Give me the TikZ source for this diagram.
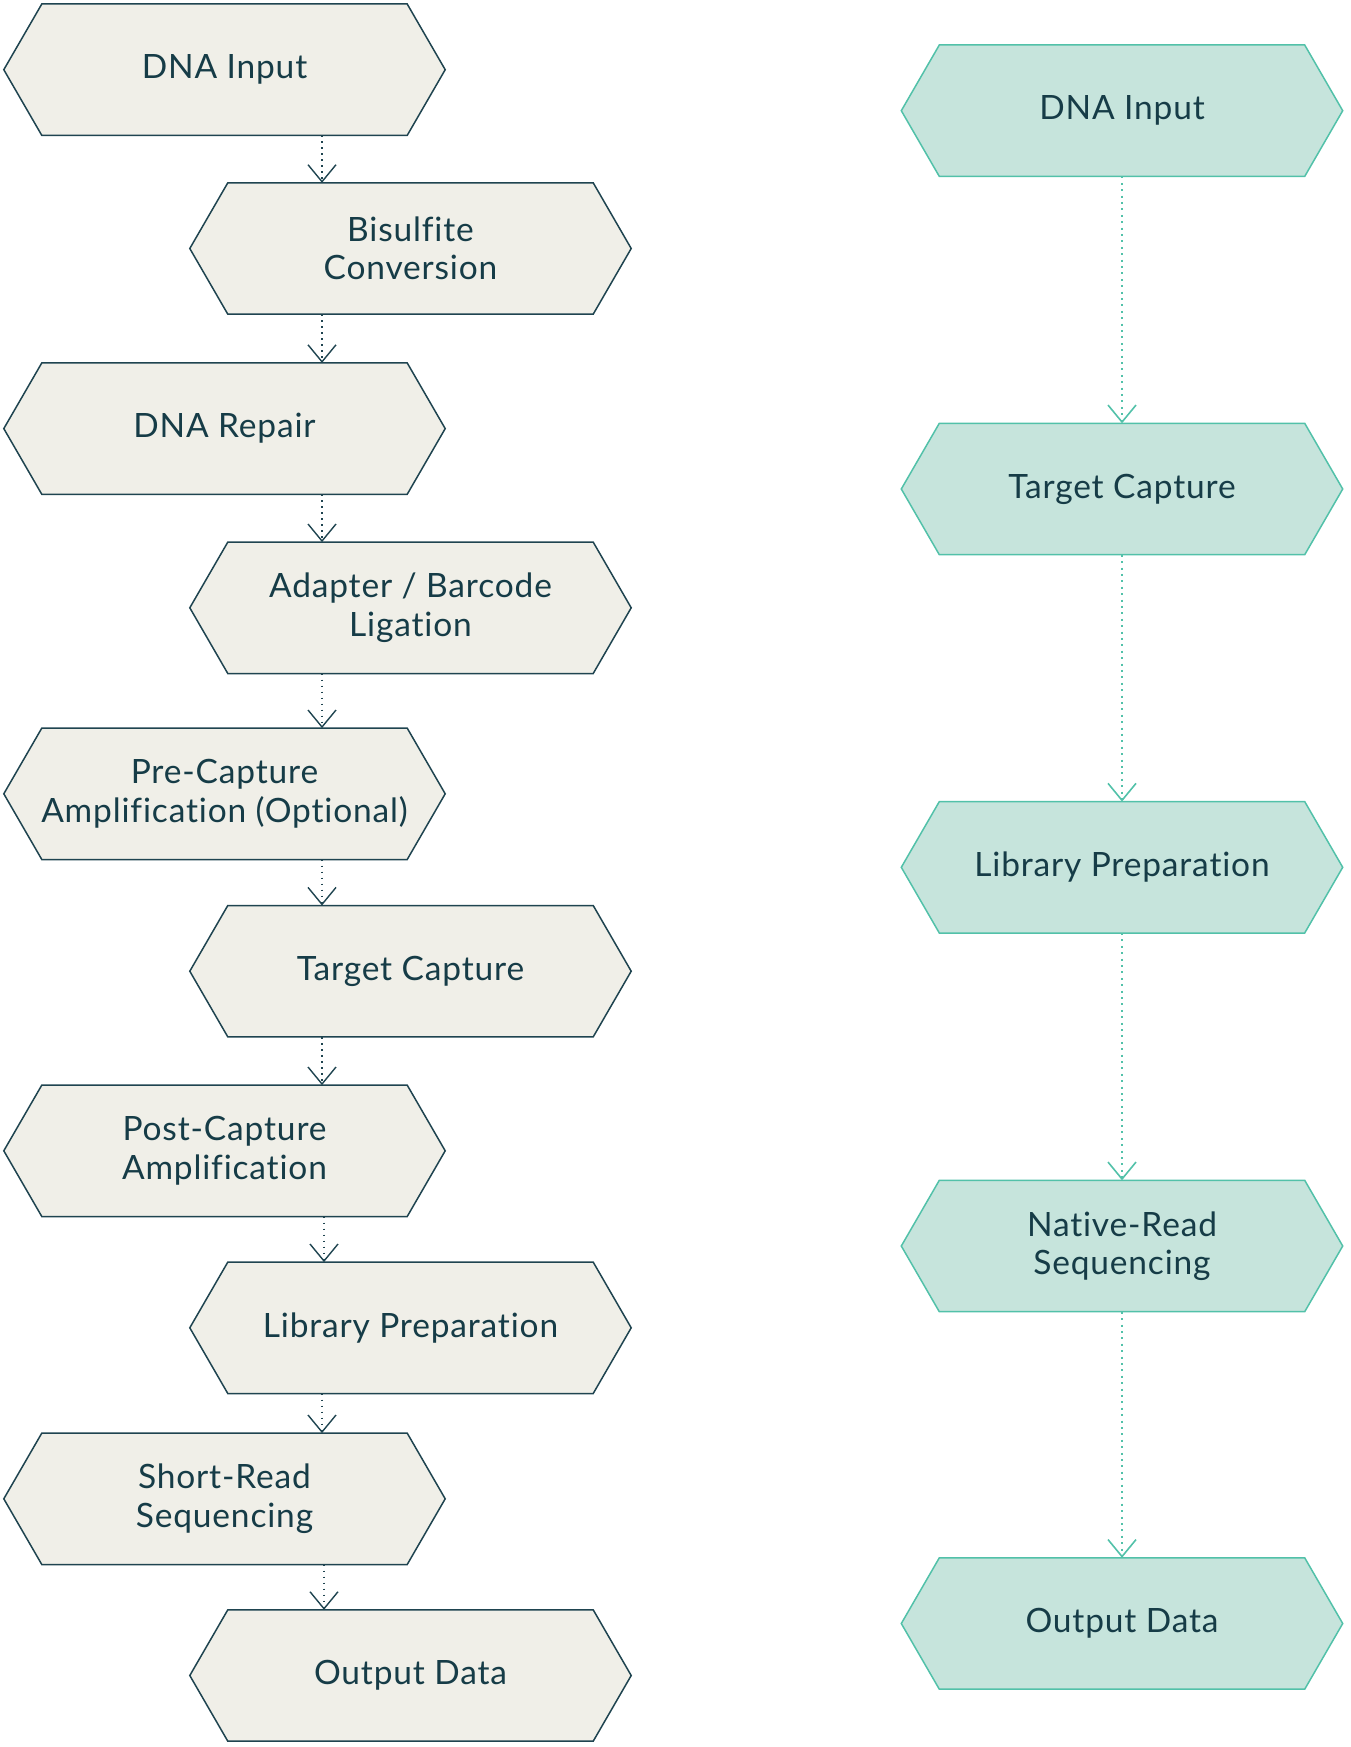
\documentclass[tikz,border=0pt]{standalone}
\usepackage{fontspec}
\setmainfont{Lato}[Ligatures=NoCommon, LetterSpace=2.5]
\usetikzlibrary{arrows.meta,backgrounds,calc}
\definecolor{lfill}{HTML}{F0EFE8}
\definecolor{lline}{HTML}{1F4450}
\definecolor{rfill}{HTML}{C6E4DC}
\definecolor{rline}{HTML}{52C1A9}
\definecolor{txt}{HTML}{163C47}
\tikzset{
  x=1pt, y=-1pt,
  hexbox/.style={rectangle, minimum width=441pt, minimum height=131pt, inner sep=0pt,
    align=center, text=txt, font=\fontsize{33.5}{38.4}\selectfont},
  lhex/.style={fill=lfill, draw=lline, line width=1.5pt, line join=miter},
  rhex/.style={fill=rfill, draw=rline, line width=1.5pt, line join=miter},
  larrow/.style={draw=lline, line width=1.5pt, dash pattern=on 1.6pt off 4.4pt,
    -{Straight Barb[length=17pt,width=28pt,line width=1.4pt]}},
  rarrow/.style={draw=rline, line width=2pt, dash pattern=on 2pt off 4.4pt,
    -{Straight Barb[length=17pt,width=28pt,line width=1.6pt]}},
}
\newcommand\hexpath[2]{%
  \path[#2] (#1.west) -- ([xshift=38pt]#1.north west) -- ([xshift=-38pt]#1.north east)
    -- (#1.east) -- ([xshift=-38pt]#1.south east) -- ([xshift=38pt]#1.south west) -- cycle;}
\newcommand\lab[1]{\raisebox{-2pt}{\begin{tabular}{@{}c@{}}#1\end{tabular}}}
\begin{document}
\begin{tikzpicture}
\useasboundingbox (0,0) rectangle (1350,1747);
% left column
\node[hexbox] (l1) at (224.5,69.7) {DNA Input};
\node[hexbox] (l2) at (410.5,248.5) {Bisulfite\\Conversion};
\node[hexbox] (l3) at (224.5,428.6) {DNA Repair};
\node[hexbox] (l4) at (410.5,607.8) {Adapter / Barcode\\Ligation};
\node[hexbox] (l5) at (224.5,793.8) {Pre-Capture\\Amplification (Optional)};
\node[hexbox] (l6) at (410.5,971.2) {Target Capture};
\node[hexbox] (l7) at (224.5,1150.8) {Post-Capture\\Amplification};
\node[hexbox] (l8) at (410.5,1327.8) {Library Preparation};
\node[hexbox] (l9) at (224.5,1498.8) {Short-Read\\Sequencing};
\node[hexbox] (l10) at (410.5,1675.5) {Output Data};
% right column
\node[hexbox] (r1) at (1122,110.7) {DNA Input};
\node[hexbox] (r2) at (1122,489) {Target Capture};
\node[hexbox] (r3) at (1122,867.3) {Library Preparation};
\node[hexbox] (r4) at (1122,1246) {Native-Read\\Sequencing};
\node[hexbox] (r5) at (1122,1623.5) {Output Data};
\begin{scope}[on background layer]
  \foreach \n in {l1,l2,l3,l4,l5,l6,l7,l8,l9,l10} {\hexpath{\n}{lhex}}
  \foreach \n in {r1,r2,r3,r4,r5} {\hexpath{\n}{rhex}}
\end{scope}
% left arrows
\foreach \a/\b/\x in {l1/l2/322,l2/l3/322,l3/l4/322,l4/l5/322,l5/l6/322,l6/l7/322,l7/l8/324,l8/l9/322,l9/l10/324} {
  \draw[larrow] (\a.south -| \x,0) -- (\b.north -| \x,0);
}
% right arrows
\foreach \a/\b in {r1/r2,r2/r3,r3/r4,r4/r5} {
  \draw[rarrow] (\a.south) -- (\b.north);
}
\end{tikzpicture}
\end{document}
